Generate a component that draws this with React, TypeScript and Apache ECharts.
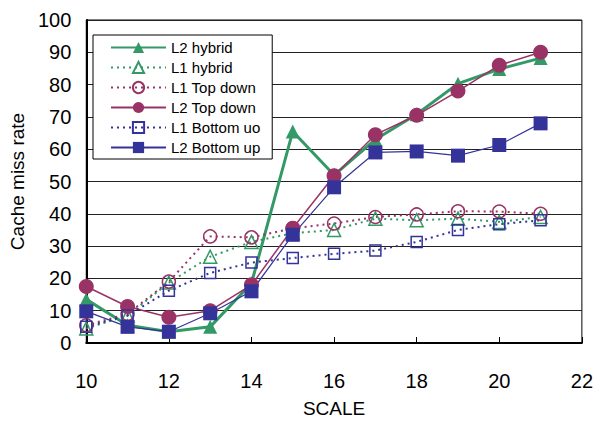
import React, { useEffect, useRef } from "react";
import * as echarts from "echarts";

const scales = [10, 11, 12, 13, 14, 15, 16, 17, 18, 19, 20, 21];
const l2Hybrid = [13.5, 5.5, 3.5, 5, 18.5, 65.5, 52, 63, 70.8, 80.3, 84.8, 88.2];
const l1Hybrid = [4.5, 8.5, 18.7, 26.7, 31.3, 34, 35, 38.5, 38, 38.5, 37.5, 39];
const l1TopDown = [5.5, 9, 19, 33, 32.7, 35.5, 37, 39, 39.8, 40.8, 40.7, 40];
const l2TopDown = [17.5, 11.3, 8, 10, 18, 35.5, 51.8, 64.5, 70.5, 78, 86, 90];
const l1BottomUp = [5, 8.5, 16.2, 21.7, 24.9, 26.3, 27.6, 28.6, 31.3, 35, 36.8, 38];
const l2BottomUp = [9.8, 5, 3.5, 9.2, 16, 33.5, 48.2, 59, 59.3, 58, 61.3, 68];

const GREEN = "#339966";
const PLUM = "#993366";
const INDIGO = "#333399";
const FONT = "Liberation Sans";

const pairs = (ys: number[]) => scales.map((x, i) => [x, ys[i]]);

export default function App() {
  const ref = useRef<HTMLDivElement>(null);
  useEffect(() => {
    if (!ref.current) return;
    const chart = echarts.init(ref.current, null, { renderer: "svg" });
    const mk = (
      name: string,
      data: number[],
      color: string,
      symbol: string,
      size: number,
      filled: boolean,
      width: number,
      dotted: boolean
    ) => ({
      name,
      type: "line",
      data: pairs(data),
      symbol,
      symbolSize: size,
      showAllSymbol: true,
      lineStyle: { color, width, type: dotted ? [2, 4] : "solid" },
      itemStyle: filled
        ? { color, borderColor: color, borderWidth: 0 }
        : { color: "rgba(255,255,255,0)", borderColor: color, borderWidth: 1.5 },
      emphasis: { disabled: true },
    });
    chart.setOption({
      animation: false,
      textStyle: { fontFamily: FONT },
      grid: {
        left: 85,
        right: 11,
        top: 20,
        bottom: 76,
        show: true,
        borderColor: "#000",
        borderWidth: 1,
      },
      legend: {
        orient: "vertical",
        left: 93,
        top: 35,
        padding: [5, 12, 4, 17],
        itemWidth: 55,
        itemHeight: 14,
        itemGap: 5,
        backgroundColor: "#fff",
        borderColor: "#000",
        borderWidth: 1,
        borderRadius: 0,
        textStyle: { fontSize: 15, color: "#000", fontFamily: FONT },
        data: [
          "L2 hybrid",
          "L1 hybrid",
          "L1 Top down",
          "L2 Top down",
          "L1 Bottom uo",
          "L2 Bottom up",
        ],
      },
      xAxis: {
        type: "value",
        min: 10,
        max: 22,
        interval: 2,
        name: "SCALE",
        nameLocation: "middle",
        nameGap: 56,
        nameTextStyle: { fontSize: 19, color: "#000", fontFamily: FONT },
        axisLine: { lineStyle: { color: "#000", width: 2 } },
        axisTick: { inside: true, length: 6, lineStyle: { color: "#000", width: 1 } },
        axisLabel: { fontSize: 20, color: "#000", margin: 28, fontFamily: FONT },
        splitLine: { show: false },
      },
      yAxis: {
        type: "value",
        min: 0,
        max: 100,
        interval: 10,
        name: "Cache miss rate",
        nameLocation: "middle",
        nameGap: 52,
        nameTextStyle: { fontSize: 19, color: "#000", fontFamily: FONT },
        axisLine: { show: true, lineStyle: { color: "#000", width: 2 } },
        axisTick: { show: false },
        axisLabel: { fontSize: 20, color: "#000", margin: 15, fontFamily: FONT },
        splitLine: { lineStyle: { color: "#222", width: 1 } },
      },
      series: [
        mk("L2 hybrid", l2Hybrid, GREEN, "triangle", 14, true, 3, false),
        mk("L1 hybrid", l1Hybrid, GREEN, "triangle", 13, false, 2, true),
        mk("L1 Top down", l1TopDown, PLUM, "circle", 13, false, 2, true),
        mk("L2 Top down", l2TopDown, PLUM, "circle", 15, true, 1.5, false),
        mk("L1 Bottom uo", l1BottomUp, INDIGO, "rect", 11, false, 2, true),
        mk("L2 Bottom up", l2BottomUp, INDIGO, "rect", 14, true, 1.2, false),
      ],
    });
    return () => chart.dispose();
  }, []);
  return (
    <div
      ref={ref}
      style={{ position: "absolute", left: 0, top: 0, width: 596, height: 423 }}
    />
  );
}
